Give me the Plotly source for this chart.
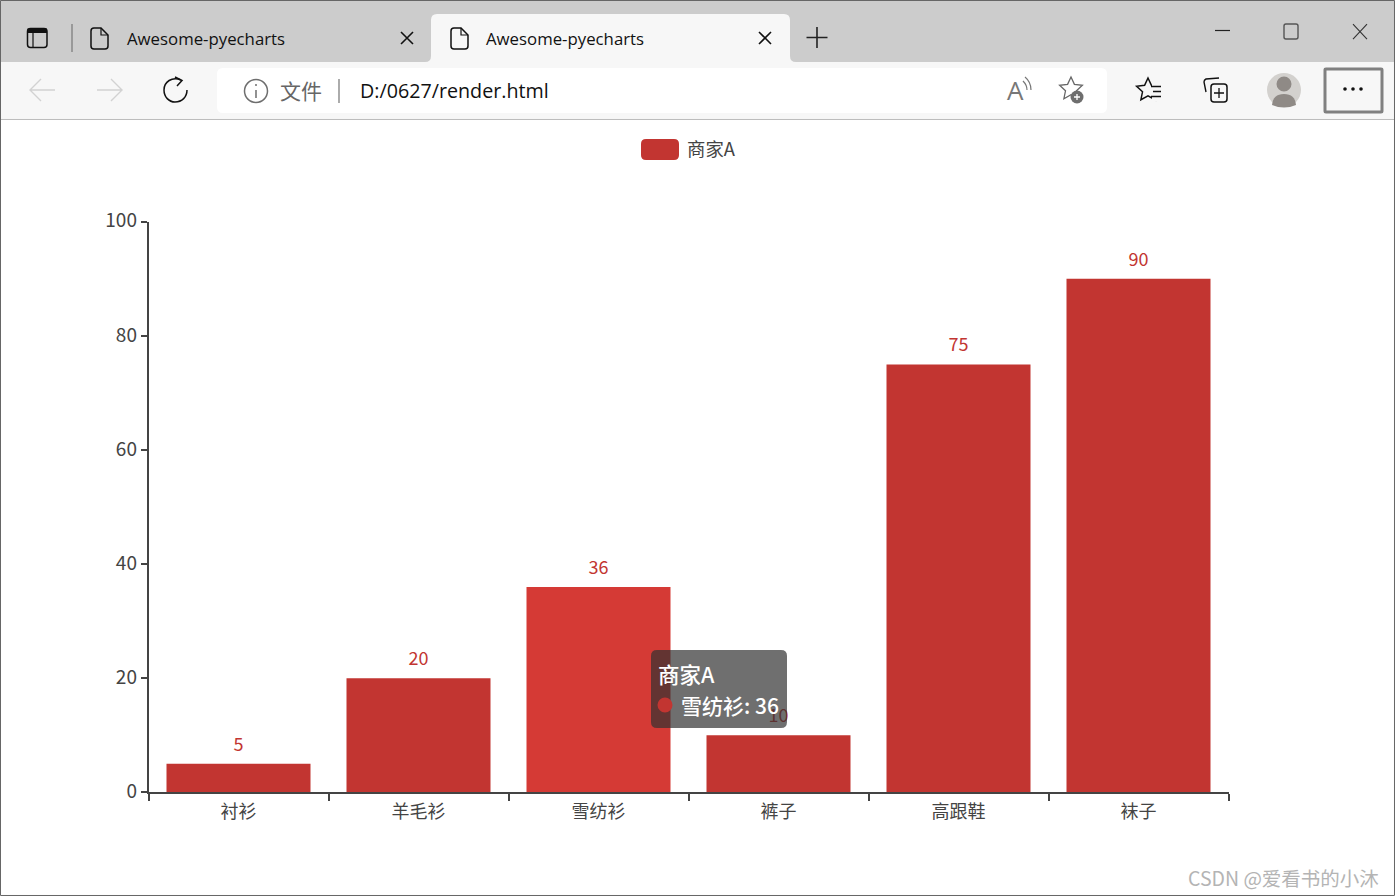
import math
import re
import plotly.graph_objects as go

W, H = 1395, 896

categories = ['衬衫', '羊毛衫', '雪纺衫', '裤子', '高跟鞋', '袜子']
values = [5, 20, 36, 10, 75, 90]
y_ticks = [0, 20, 40, 60, 80, 100]
series_name = '商家A'
hover_category = '雪纺衫'

RED = '#c23531'
RED_HOVER = '#d53a35'
CJK = 'Noto Sans CJK SC'
UI = 'Open Sans, Noto Sans CJK SC'
AXIS = '#444444'


def px(x):
    return x / W


def py(y):
    return 1 - y / H


def to_paper(path):
    # path is written in screen pixels, x y pairs only
    nums = iter(range(10000))

    def conv(m):
        i = next(nums)
        v = float(m.group())
        return f'{px(v):.5f}' if i % 2 == 0 else f'{py(v):.5f}'

    return re.sub(r'-?\d+\.?\d*', conv, path)


def rrect(x0, y0, x1, y1, r):
    return (f'M{x0+r} {y0} L{x1-r} {y0} Q{x1} {y0} {x1} {y0+r} L{x1} {y1-r} Q{x1} {y1} {x1-r} {y1} '
            f'L{x0+r} {y1} Q{x0} {y1} {x0} {y1-r} L{x0} {y0+r} Q{x0} {y0} {x0+r} {y0} Z')


def star(cx, cy, r):
    pts = []
    for i in range(10):
        rad = r if i % 2 == 0 else r * 0.48
        a = -math.pi / 2 + i * math.pi / 5
        pts.append(f'{cx + rad * math.cos(a):.1f} {cy + rad * math.sin(a):.1f}')
    return 'M' + ' L'.join(pts) + ' Z'


shapes = []
annots = []


def path(d, fill='rgba(0,0,0,0)', line='rgba(0,0,0,0)', width=1):
    shapes.append(dict(type='path', xref='paper', yref='paper', path=to_paper(d), fillcolor=fill,
                       line=dict(color=line, width=width), layer='above'))


def circle(cx, cy, r, fill='rgba(0,0,0,0)', line='rgba(0,0,0,0)', width=1):
    shapes.append(dict(type='circle', xref='paper', yref='paper', x0=px(cx-r), x1=px(cx+r),
                       y0=py(cy+r), y1=py(cy-r), fillcolor=fill,
                       line=dict(color=line, width=width), layer='above'))


def label(x, y, text, size, color, family=UI, anchor='left', weight=400):
    annots.append(dict(xref='paper', yref='paper', x=px(x), y=py(y), text=text, showarrow=False,
                       xanchor=anchor, yanchor='middle', borderpad=0,
                       font=dict(size=size, color=color, family=family, weight=weight)))


# browser chrome
path(f'M0 0 L{W} 0 L{W} 62 L0 62 Z', fill='#cccccc')
path(f'M0 62 L{W} 62 L{W} 119 L0 119 Z', fill='#f7f7f7')
path(f'M0 119.5 L{W} 119.5', line='#bdbdbd', width=1)
path('M431 62 L431 20 Q431 14 437 14 L784 14 Q790 14 790 20 L790 56 Q790 62 796 62 L425 62 Q431 62 431 56 Z',
     fill='#f7f7f7')
path(rrect(217, 68, 1107, 113, 6), fill='#ffffff')

path(rrect(27.5, 28.5, 47, 47.5, 3), line='#111111', width=1.5)
path('M27.5 28.5 L47 28.5 L47 33 L27.5 33 Z', fill='#111111')
path('M33 33 L33 47', line='#111111', width=1.2)
path('M72 24 L72 52', line='#777777', width=1.2)
for dx in (0, 360):
    path(f'M{91+dx} 31 Q{91+dx} 28 {94+dx} 28 L{101+dx} 28 L{108+dx} 35 L{108+dx} 46 Q{108+dx} 49 {105+dx} 49 '
         f'L{94+dx} 49 Q{91+dx} 49 {91+dx} 46 Z', line='#111111', width=1.5)
    path(f'M{101+dx} 28 L{101+dx} 35 L{108+dx} 35', line='#111111', width=1.2)
label(126, 38, 'Awesome-pyecharts', 16.8, '#111111')
label(485, 38, 'Awesome-pyecharts', 16.8, '#111111')
for cx in (407, 765):
    path(f'M{cx-6} 32 L{cx+6} 44 M{cx+6} 32 L{cx-6} 44', line='#111111', width=1.6)
path('M817 27 L817 48 M806.5 37.5 L827.5 37.5', line='#222222', width=1.6)
path('M1215 30.5 L1230 30.5', line='#222222', width=1.2)
path(rrect(1284, 24, 1298, 39, 2), line='#555555', width=1.4)
path('M1353 24 L1367 39 M1367 24 L1353 39', line='#333333', width=1.1)

path('M31 90 L55 90 M41 79 L30 90 L41 101', line='#d2d2d2', width=1.4)
path('M97 90 L121 90 M111 79 L122 90 L111 101', line='#d2d2d2', width=1.4)
path('M181 80 C172 76 164 82 164 90 C164 97 169 102 175 102 C182 102 187 97 187 90', line='#111111', width=1.5)
path('M175 77 L182 80.5 L177 86', line='#111111', width=1.5)
circle(256, 91, 11.5, line='#6e6e6e', width=1.5)
path('M256 90 L256 98 M256 84 L256 86', line='#6e6e6e', width=1.5)
label(279, 90, '文件', 21, '#666666', CJK)
path('M339 79 L339 103', line='#888888', width=1.4)
label(359, 90.5, 'D:/0627/render.html', 19.7, '#111111')

label(1006, 90, 'A', 26, '#777777')
path('M1023 81 Q1027 85 1027 90 M1025 77 Q1031 82 1031 90', line='#777777', width=1.2)
path(star(1071, 89, 12), line='#666666', width=1.3)
circle(1077, 97, 6.5, fill='#6e6e6e')
path('M1077 94 L1077 100 M1074 97 L1080 97', line='#ffffff', width=1.3)
path(star(1148, 90, 12), line='#111111', width=1.5)
path('M1152 84 L1163 84 L1163 101 L1152 101 Z', fill='#f7f7f7')
path('M1151 86.5 L1161 86.5 M1153 91.5 L1161 91.5 M1151 96.5 L1161 96.5', line='#111111', width=1.4)
path(rrect(1211, 84, 1227, 102, 3), fill='#f7f7f7', line='#111111', width=1.5)
path('M1206 92 L1204 82 Q1204 80 1206 79 L1219 78', line='#111111', width=1.4)
path('M1219 88 L1219 98 M1214 93 L1224 93', line='#111111', width=1.3)
circle(1284, 90, 17, fill='#d3d1ce')
circle(1284, 84, 7.5, fill='#8f8a86')
path('M1272 105 Q1273 94 1284 94 Q1295 94 1296 105 Q1284 110 1272 105 Z', fill='#8f8a86')
path(rrect(1325, 69, 1382, 112, 1), line='#808080', width=3)
for cx in (1345, 1353, 1361):
    circle(cx, 89, 1.8, fill='#111111')

# legend
path(rrect(641, 139, 679, 160, 5), fill=RED)
label(685.5, 148, series_name, 18.4, '#444444', CJK)

# tooltip
path(rrect(651, 650, 787, 728, 6), fill='rgba(50,50,50,0.7)')
label(657, 673, series_name, 21.5, '#ffffff', CJK, weight=500)
circle(665, 705, 7.5, fill=RED)
label(680, 705, f'{hover_category}: {values[categories.index(hover_category)]}', 21, '#ffffff', CJK, weight=500)

label(1380, 877, 'CSDN @爱看书的小沐', 19.5, '#b4b4b4', CJK, 'right')

# window border
path(f'M0.5 0.5 L{W-0.5} 0.5 L{W-0.5} {H-0.5} L0.5 {H-0.5} Z', line='#666666', width=1)

bar_colors = [RED_HOVER if c == hover_category else RED for c in categories]

fig = go.Figure()
fig.add_trace(go.Bar(x=categories, y=values, name=series_name, marker=dict(color=bar_colors, line_width=0),
                     width=0.8, showlegend=False))
fig.add_trace(go.Scatter(x=categories, y=values, mode='markers+text', text=[str(v) for v in values],
                         textposition='top center', marker=dict(size=12, opacity=0), showlegend=False,
                         textfont=dict(size=18, color=RED, family=CJK), cliponaxis=False))

fig.update_layout(
    width=W, height=H, margin=dict(l=0, r=0, t=0, b=0, autoexpand=False),
    plot_bgcolor='#ffffff', paper_bgcolor='#ffffff',
    font=dict(family=CJK, size=18, color=AXIS),
    shapes=shapes, annotations=annots, hovermode=False,
    xaxis=dict(domain=[px(148.5), px(1228.5)], range=[-0.5, 5.5], type='category', categoryorder='array',
               categoryarray=categories, tickson='boundaries', ticks='outside', ticklen=7, tickwidth=1.5,
               tickcolor=AXIS, showline=True, linecolor=AXIS, linewidth=1.5, showgrid=False,
               zeroline=False, anchor='y', automargin=False, ticklabelstandoff=2),
    yaxis=dict(domain=[py(792.3), py(221.8)], range=[0, 100], tickvals=y_ticks, ticks='outside', ticklen=6,
               tickwidth=1.5, tickcolor=AXIS, showline=True, linecolor=AXIS, linewidth=1.5,
               showgrid=False, zeroline=False, anchor='x', automargin=False,
               tickfont=dict(size=19), ticklabelstandoff=0, ticklabelshift=-1),
)

fig.write_html('out.html', config=dict(displayModeBar=False),
               post_script="document.body.style.margin='0';document.body.style.overflow='hidden';")
